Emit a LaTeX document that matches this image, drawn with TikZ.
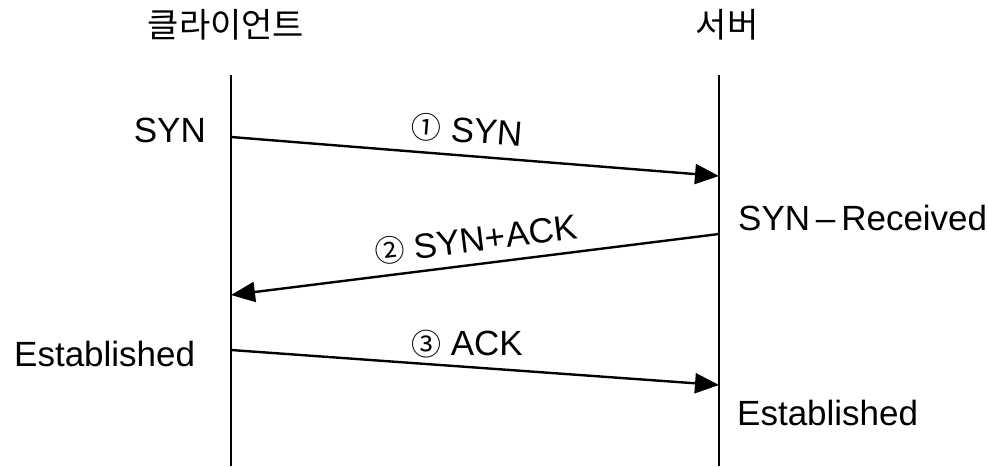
\documentclass[tikz,border=0pt]{standalone}
\usepackage{fontspec}
\setmainfont{Liberation Sans}
\newfontfamily\kor{Noto Sans CJK KR}
\newcommand{\circnum}[1]{{\kor\fontsize{30}{30}\selectfont #1}}
\usetikzlibrary{arrows.meta}
\begin{document}
\begin{tikzpicture}[x=1pt,y=-1pt,
  lifeline/.style={line width=2.4pt},
  msg/.style={line width=2.4pt,-{Triangle[length=24pt,width=20pt]}},
  lbl/.style={inner sep=0pt,font=\fontsize{35}{35}\selectfont},
  hdr/.style={inner sep=0pt,font=\kor\fontsize{34}{34}\selectfont}]
\useasboundingbox (0,0) rectangle (988,466);
% lifelines
\coordinate (ct) at (231,75);
\coordinate (cb) at (231,466);
\coordinate (st) at (719,75);
\coordinate (sb) at (719,466);
\draw[lifeline] (ct) -- (cb);
\draw[lifeline] (st) -- (sb);
% headers
\node[hdr] (client) at (226,25) {클라이언트};
\node[hdr] (server) at (727,25) {서버};
% message end points
\coordinate (c1) at (231,137);
\coordinate (s1) at (719,176);
\coordinate (s2) at (719,234);
\coordinate (c2) at (231,295);
\coordinate (c3) at (231,350);
\coordinate (s3) at (719,385);
\draw[msg] (c1) -- (s1);
\draw[msg] (s2) -- (c2);
\draw[msg] (c3) -- (s3);
% message labels
\node[lbl,rotate=-4.6] (m1) at (467,131) {\circnum{①} SYN};
\node[lbl,rotate=7.1] (m2) at (476,240) {\circnum{②} SYN+ACK};
\node[lbl] (m3) at (467,344) {\circnum{③} ACK};
% state labels
\node[lbl,anchor=east] (csyn) at (206,130) {SYN};
\node[lbl,anchor=west] (srecv) at (738,218) {SYN\,–\,Received};
\node[lbl,anchor=west] (cest) at (14,354) {Established};
\node[lbl,anchor=west] (sest) at (737,413) {Established};
\end{tikzpicture}
\end{document}
